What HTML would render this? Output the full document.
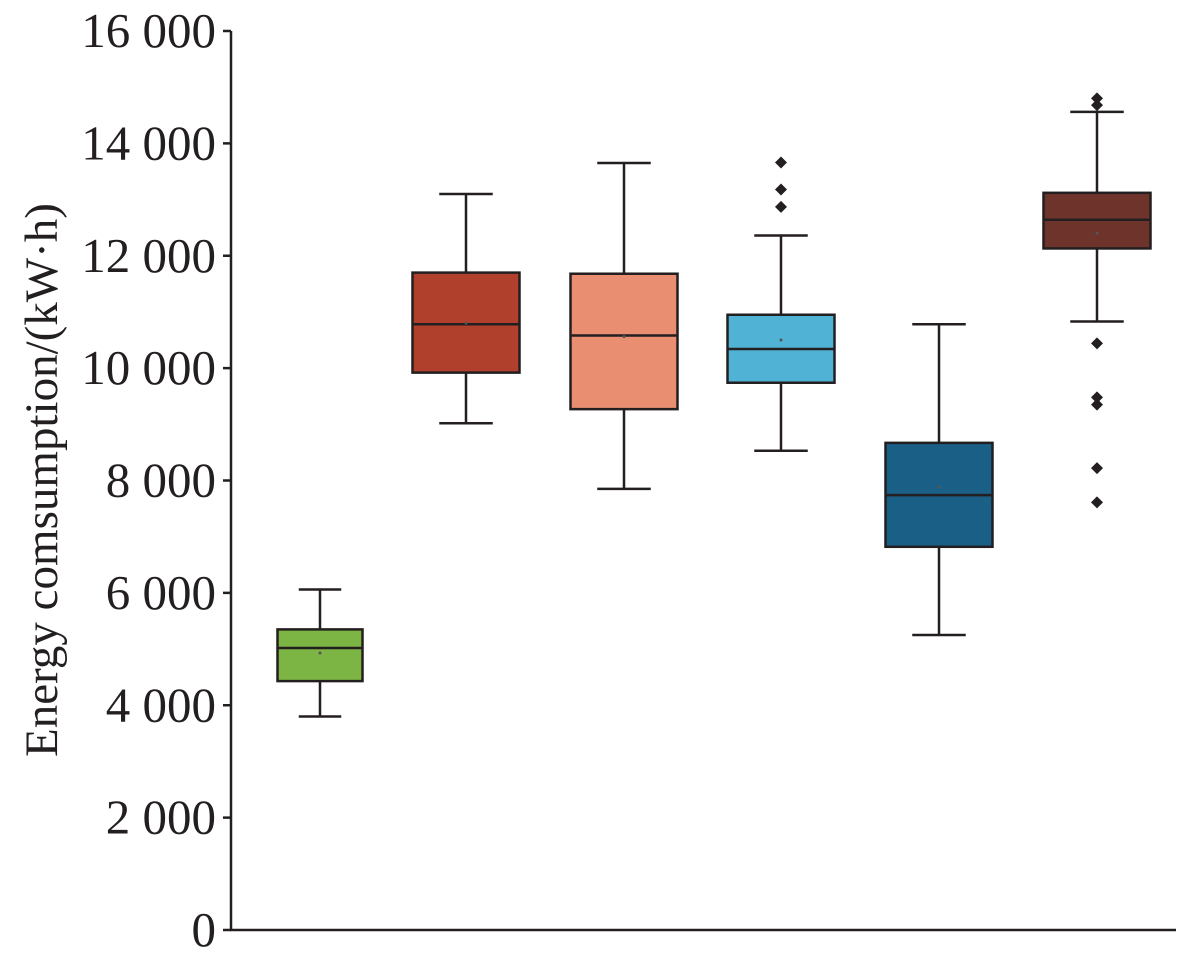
<!DOCTYPE html>
<html><head><meta charset="utf-8"><style>
html,body{margin:0;padding:0;background:#fff;}
svg{display:block;}
text{font-family:"Liberation Serif",serif;fill:#231f20;}
</style></head><body>
<svg id="chart" width="1181" height="956" viewBox="0 0 1181 956" xmlns="http://www.w3.org/2000/svg"></svg>
<script>
const tickValues=[0,2000,4000,6000,8000,10000,12000,14000,16000];
const tickLabels=["0","2 000","4 000","6 000","8 000","10 000","12 000","14 000","16 000"];
const categories=["group-1","group-2","group-3","group-4","group-5","group-6"];
const whiskerLow=[3800,9020,7850,8530,5250,10830];
const q1Values=[4430,9920,9270,9740,6820,12130];
const medianValues=[5020,10780,10580,10340,7740,12640];
const q3Values=[5350,11700,11680,10950,8670,13120];
const whiskerHigh=[6060,13100,13650,12360,10780,14560];
const meanValues=[4930,10800,10560,10500,7880,12400];
const outlierValues=[[],[],[],[12870,13180,13660],[],[14680,14800,10440,9480,9350,8220,7610]];
const colors=["#7db544","#b0402b","#e98e70","#50b3d6","#1a5f86","#6e342b"];

const svg=document.getElementById('chart');
const NS="http://www.w3.org/2000/svg";
const y0=930,yTop=31,vMax=16000;
function yScale(v){return y0-(v/vMax)*(y0-yTop);}
const boxCenters=[320,466,624,781,939,1097];
const boxWidths=[85,107,107,107,107,107];
function xScale(i){return boxCenters[i];}
function mk(tag,attrs,parent){const e=document.createElementNS(NS,tag);for(const k in attrs)e.setAttribute(k,attrs[k]);(parent||svg).appendChild(e);return e;}

const ax=mk('line',{x1:231,y1:yTop,x2:231,y2:y0,stroke:'#231f20','stroke-width':2.5});


const bx=mk('line',{x1:230,y1:y0,x2:1176,y2:y0,stroke:'#231f20','stroke-width':2.5});



tickValues.forEach((v,i)=>{
  const y=yScale(v);
  const t=mk('line',{x1:223,y1:y,x2:231,y2:y,stroke:'#231f20','stroke-width':2.5});
  
  
  const l=mk('text',{x:216,y:y+16,'text-anchor':'end','font-size':49});
  l.textContent=tickLabels[i];
  
  
});
const title=mk('text',{x:0,y:0,'text-anchor':'middle','font-size':47,transform:'translate(57,480) rotate(-90)'});
title.textContent='Energy comsumption/(kW·h)';



categories.forEach((c,i)=>{
  const g=mk('g',{});
  
  
  const cx=xScale(i),hw=boxWidths[i]/2;
  const st={stroke:'#231f20','stroke-width':2.5};
  mk('line',Object.assign({x1:cx,y1:yScale(whiskerLow[i]),x2:cx,y2:yScale(q1Values[i])},st),g);
  mk('line',Object.assign({x1:cx,y1:yScale(q3Values[i]),x2:cx,y2:yScale(whiskerHigh[i])},st),g);
  mk('line',Object.assign({x1:cx-hw/2,y1:yScale(whiskerLow[i]),x2:cx+hw/2,y2:yScale(whiskerLow[i])},st),g);
  mk('line',Object.assign({x1:cx-hw/2,y1:yScale(whiskerHigh[i]),x2:cx+hw/2,y2:yScale(whiskerHigh[i])},st),g);
  mk('rect',Object.assign({x:cx-hw,y:yScale(q3Values[i]),width:boxWidths[i],height:yScale(q1Values[i])-yScale(q3Values[i]),fill:colors[i]},st),g);
  mk('line',Object.assign({x1:cx-hw,y1:yScale(medianValues[i]),x2:cx+hw,y2:yScale(medianValues[i])},st),g);
  mk('circle',{cx:cx,cy:yScale(meanValues[i]),r:1.5,fill:'#555'},g);
  outlierValues[i].forEach(v=>{
    const y=yScale(v);
    const d=mk('polygon',{points:`${cx},${y-6} ${cx+6},${y} ${cx},${y+6} ${cx-6},${y}`,fill:'#231f20'},g);
    
    
  });
});
</script>
</body></html>
